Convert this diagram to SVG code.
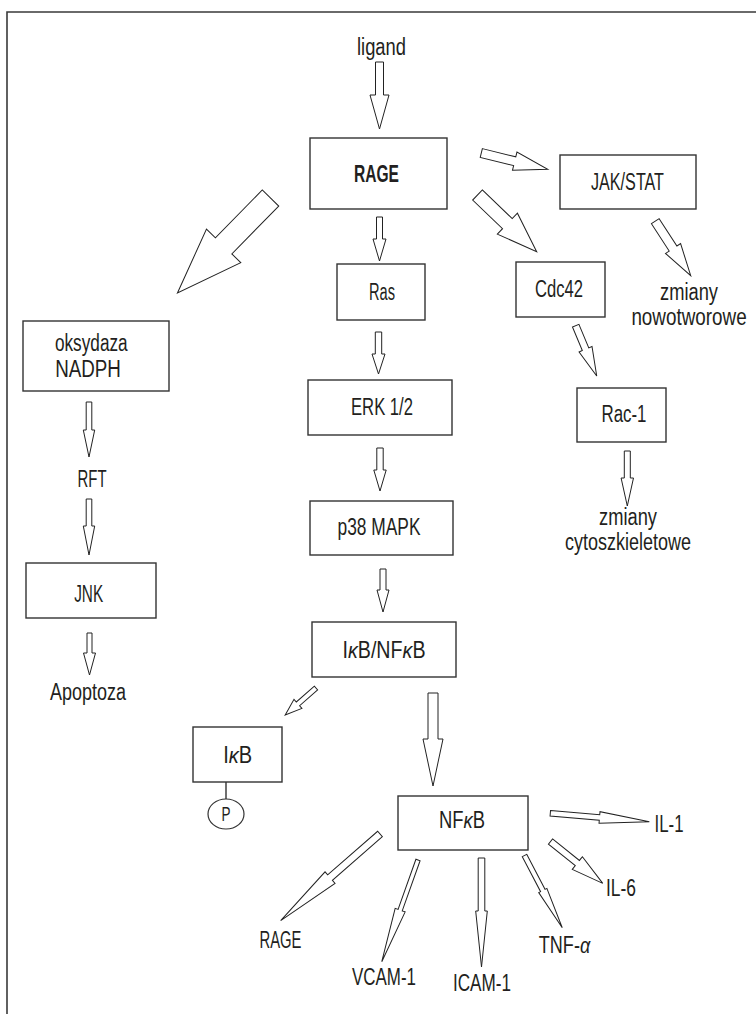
<svg xmlns="http://www.w3.org/2000/svg" width="756" height="1014" viewBox="0 0 756 1014">
<style>
.frame{fill:none;stroke:#3a3a3a;stroke-width:1.6}
.box{fill:#fff;stroke:#333;stroke-width:1.4}
.arr{fill:#fff;stroke:#222;stroke-width:1;stroke-linejoin:miter}
text{font-family:"Liberation Sans",Arial,sans-serif;font-size:23px;fill:#231f20;text-anchor:middle}
.b{font-weight:bold}
.i{font-style:italic}
</style>
<rect width="756" height="1014" fill="#fff"/>
<polyline class="frame" points="7,1014 7,12 756,12"/>

<g id="connectors">
<polygon class="arr" transform="translate(379.5,62) rotate(90)" points="0,-4 33,-4 33,-9.5 67,0 33,9.5 33,4 0,4"/>
<polygon class="arr" transform="translate(379.5,217) rotate(90)" points="0,-3 22,-3 22,-6.5 44,0 22,6.5 22,3 0,3"/>
<polygon class="arr" transform="translate(378.5,332) rotate(90)" points="0,-3.2 22,-3.2 22,-6.5 42,0 22,6.5 22,3.2 0,3.2"/>
<polygon class="arr" transform="translate(380,448) rotate(90)" points="0,-3.2 22,-3.2 22,-6.2 43,0 22,6.2 22,3.2 0,3.2"/>
<polygon class="arr" transform="translate(383,569) rotate(90)" points="0,-3 21,-3 21,-6 43,0 21,6 21,3 0,3"/>
<polygon class="arr" transform="translate(316,688) rotate(138.7)" points="0,-2.5 24,-2.5 24,-6 41,0 24,6 24,2.5 0,2.5"/>
<polygon class="arr" transform="translate(433,693) rotate(90)" points="0,-5 46,-5 46,-10 93,0 46,10 46,5 0,5"/>
<polygon class="arr" transform="translate(270.5,198) rotate(134.4)" points="0,-11.5 67,-11.5 67,-24 133,0 67,24 67,11.5 0,11.5"/>
<polygon class="arr" transform="translate(481.3,153) rotate(13.8)" points="0,-4.5 34.4,-4.5 34.4,-9.4 68.4,0 34.4,9.4 34.4,4.5 0,4.5"/>
<polygon class="arr" transform="translate(477.5,195) rotate(43.8)" points="0,-7 41.4,-7 41.4,-14.5 82,0 41.4,14.5 41.4,7 0,7"/>
<polygon class="arr" transform="translate(655.3,221.2) rotate(57)" points="0,-4.6 32.6,-4.6 32.6,-9 65,0 32.6,9 32.6,4.6 0,4.6"/>
<polygon class="arr" transform="translate(575.7,325.7) rotate(67.3)" points="0,-3.5 25.5,-3.5 25.5,-7 54.5,0 25.5,7 25.5,3.5 0,3.5"/>
<polygon class="arr" transform="translate(627.3,451) rotate(90)" points="0,-3 27,-3 27,-6.2 55,0 27,6.2 27,3 0,3"/>
<polygon class="arr" transform="translate(89,402) rotate(90)" points="0,-2.8 28,-2.8 28,-5.7 55,0 28,5.7 28,2.8 0,2.8"/>
<polygon class="arr" transform="translate(89,499) rotate(90)" points="0,-2.8 27,-2.8 27,-5.7 56,0 27,5.7 27,2.8 0,2.8"/>
<polygon class="arr" transform="translate(89.5,633) rotate(90)" points="0,-2.5 20,-2.5 20,-6 42,0 20,6 20,2.5 0,2.5"/>
<polygon class="arr" transform="translate(380,834) rotate(138.9)" points="0,-3.6 66.3,-3.6 66.3,-7.6 131.8,0 66.3,7.6 66.3,3.6 0,3.6"/>
<polygon class="arr" transform="translate(418,860) rotate(109.6)" points="0,-2.2 53.2,-2.2 53.2,-5.3 108,0 53.2,5.3 53.2,2.2 0,2.2"/>
<polygon class="arr" transform="translate(481.5,858) rotate(90)" points="0,-3.3 53,-3.3 53,-5.8 109,0 53,5.8 53,3.3 0,3.3"/>
<polygon class="arr" transform="translate(524.5,855.5) rotate(62.4)" points="0,-2.5 39.5,-2.5 39.5,-4.6 81.5,0 39.5,4.6 39.5,2.5 0,2.5"/>
<polygon class="arr" transform="translate(550.5,841.5) rotate(38.7)" points="0,-3.3 34.4,-3.3 34.4,-8.1 67,0 34.4,8.1 34.4,3.3 0,3.3"/>
<polygon class="arr" transform="translate(550.3,813.3) rotate(4.85)" points="0,-2.7 49.4,-2.7 49.4,-5.8 99.4,0 49.4,5.8 49.4,2.7 0,2.7"/>
<line x1="226" y1="782" x2="226" y2="799" stroke="#333" stroke-width="1.4"/>
</g>

<g id="ligand"><text x="381.5" y="55" textLength="49" lengthAdjust="spacingAndGlyphs">ligand</text></g>
<g id="rage"><rect class="box" x="310" y="138" width="137" height="71"/><text class="b" x="376.5" y="182" textLength="45" lengthAdjust="spacingAndGlyphs">RAGE</text></g>
<g id="ras"><rect class="box" x="337" y="264" width="88" height="56"/><text x="382" y="299.5" textLength="26" lengthAdjust="spacingAndGlyphs">Ras</text></g>
<g id="erk"><rect class="box" x="308" y="380" width="144" height="55"/><text x="382" y="415" textLength="62" lengthAdjust="spacingAndGlyphs">ERK 1/2</text></g>
<g id="p38"><rect class="box" x="310" y="501" width="143" height="54"/><text x="379" y="535" textLength="83" lengthAdjust="spacingAndGlyphs">p38 MAPK</text></g>
<g id="ikb-nfkb"><rect class="box" x="312" y="622" width="144" height="55"/><text transform="translate(384,658) scale(0.855,1)">I<tspan class="i">κ</tspan>B/NF<tspan class="i">κ</tspan>B</text></g>
<g id="ikb"><rect class="box" x="193" y="727" width="89" height="55"/><text transform="translate(237.7,763) scale(0.873,1)">I<tspan class="i">κ</tspan>B</text></g>
<g id="p"><ellipse cx="226" cy="814" rx="18" ry="15" fill="#fff" stroke="#333" stroke-width="1.2"/><text x="226" y="821" style="font-size:20px" textLength="9" lengthAdjust="spacingAndGlyphs">P</text></g>
<g id="nfkb"><rect class="box" x="398" y="796" width="130" height="54"/><text transform="translate(462,828) scale(0.8,1)">NF<tspan class="i">κ</tspan>B</text></g>
<g id="il1"><text x="669" y="832" textLength="29" lengthAdjust="spacingAndGlyphs">IL-1</text></g>
<g id="il6"><text x="621" y="896" textLength="30" lengthAdjust="spacingAndGlyphs">IL-6</text></g>
<g id="tnf"><text transform="translate(564.5,953) scale(0.785,1)">TNF-<tspan class="i">α</tspan></text></g>
<g id="icam"><text x="482" y="991" textLength="58" lengthAdjust="spacingAndGlyphs">ICAM-1</text></g>
<g id="vcam"><text x="384" y="985" textLength="64" lengthAdjust="spacingAndGlyphs">VCAM-1</text></g>
<g id="rage2"><text x="280.5" y="948" textLength="42" lengthAdjust="spacingAndGlyphs">RAGE</text></g>
<g id="jakstat"><rect class="box" x="560" y="155" width="136" height="54"/><text x="627.5" y="190" textLength="73" lengthAdjust="spacingAndGlyphs">JAK/STAT</text></g>
<g id="zmiany-nowotworowe"><text x="689" y="300" textLength="58" lengthAdjust="spacingAndGlyphs">zmiany</text><text transform="translate(689,325) scale(0.82,1)">nowotworowe</text></g>
<g id="cdc42"><rect class="box" x="516" y="262" width="89" height="55"/><text x="559" y="297" textLength="48" lengthAdjust="spacingAndGlyphs">Cdc42</text></g>
<g id="rac1"><rect class="box" x="577" y="388" width="89" height="54"/><text x="624" y="422" textLength="45" lengthAdjust="spacingAndGlyphs">Rac-1</text></g>
<g id="zmiany-cyto"><text x="628" y="525" textLength="58" lengthAdjust="spacingAndGlyphs">zmiany</text><text x="628" y="550" textLength="126" lengthAdjust="spacingAndGlyphs">cytoszkieletowe</text></g>
<g id="oksydaza"><rect class="box" x="23" y="321" width="146" height="70"/><text x="91.3" y="351" textLength="72.7" lengthAdjust="spacingAndGlyphs">oksydaza</text><text x="88" y="377" textLength="65.7" lengthAdjust="spacingAndGlyphs">NADPH</text></g>
<g id="rft"><text x="92" y="487" textLength="29" lengthAdjust="spacingAndGlyphs">RFT</text></g>
<g id="jnk"><rect class="box" x="26" y="563" width="130" height="55"/><text x="88.7" y="602" textLength="29" lengthAdjust="spacingAndGlyphs">JNK</text></g>
<g id="apoptoza"><text x="88" y="700" textLength="76" lengthAdjust="spacingAndGlyphs">Apoptoza</text></g>
</svg>
